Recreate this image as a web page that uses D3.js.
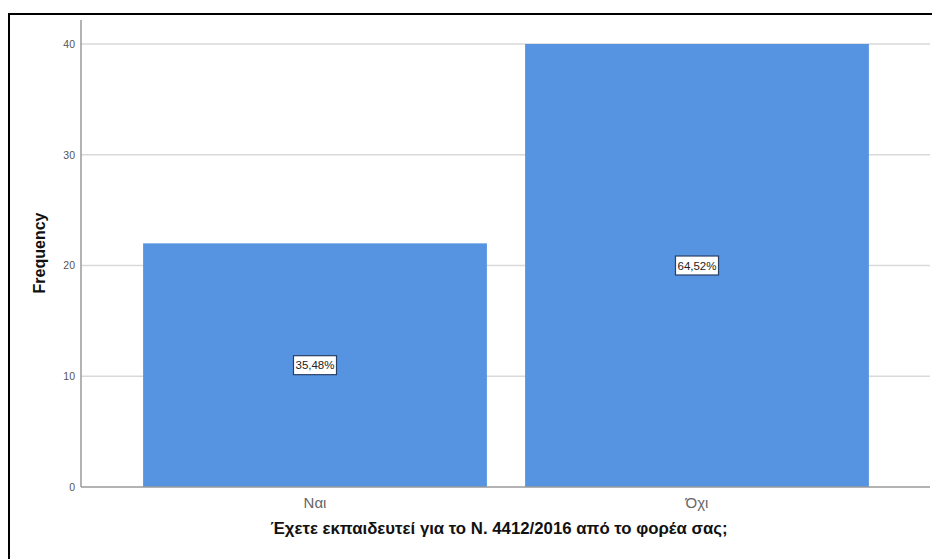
<!DOCTYPE html>
<html><head><meta charset="utf-8">
<script src="https://cdn.jsdelivr.net/npm/d3@7"></script>
<style>body{margin:0;background:#fff}svg{display:block}</style>
</head><body>
<svg id="c" width="932" height="559"></svg>
<script>
const categories = ["Ναι", "Όχι"];
const frequencies = [22, 40];
const percentLabels = ["35,48%", "64,52%"];
const yTicks = [0, 10, 20, 30, 40];
const xTitle = "Έχετε εκπαιδευτεί για το Ν. 4412/2016 από το φορέα σας;";
const yTitle = "Frequency";

const font = "Liberation Sans, Arial, sans-serif";
const svg = d3.select("#c");
// outer frame
svg.append("rect").attr("x", 9).attr("y", 14).attr("width", 940).attr("height", 560)
  .attr("fill", "none").attr("stroke", "#000").attr("stroke-width", 2);

const x = d3.scaleBand().domain(categories).range([124, 888]).paddingInner(0.1).paddingOuter(0.05);
const y = d3.scaleLinear().domain([0, 40]).range([487, 44]);
const left = 81, right = 930;

// grid
svg.append("g").selectAll("line").data(yTicks.filter(d => d > 0)).join("line")
  .attr("x1", left).attr("x2", right).attr("y1", d => y(d)).attr("y2", d => y(d))
  .attr("stroke", "#d9d9d9").attr("stroke-width", 1.5);

// bars
svg.append("g").selectAll("rect").data(categories).join("rect")
  .attr("x", d => x(d)).attr("width", x.bandwidth())
  .attr("y", (d, i) => y(frequencies[i])).attr("height", (d, i) => y(0) - y(frequencies[i]))
  .attr("fill", "#5694e2");

// axes
const ya = svg.append("g").attr("transform", `translate(${left},0)`)
  .call(d3.axisLeft(y).tickValues(yTicks).tickSize(0).tickPadding(6));
ya.select(".domain").attr("d", `M0,20V${y(0)}`).attr("stroke", "#9a9a9a").attr("stroke-width", 1.5);
ya.selectAll("text").attr("font-family", font).attr("font-size", 10.5).attr("fill", "#555");

const xa = svg.append("g").attr("transform", `translate(0,${y(0)})`)
  .call(d3.axisBottom(x).tickSize(0).tickPadding(10));
xa.select(".domain").attr("d", `M${left},0H${right}`).attr("stroke", "#9a9a9a").attr("stroke-width", 1.5);
xa.selectAll("text").attr("font-family", font).attr("font-size", 15).attr("fill", "#666");

// percent labels
categories.forEach((c, i) => {
  const cx = x(c) + x.bandwidth() / 2, cy = y(frequencies[i] / 2);
  const g = svg.append("g");
  const t = g.append("text").attr("x", cx).attr("y", cy).attr("text-anchor", "middle")
    .attr("dominant-baseline", "central").attr("font-family", font)
    .attr("font-size", 11.5).attr("fill", "#222").text(percentLabels[i]);
  const bb = t.node().getBBox();
  g.insert("rect", "text").attr("x", bb.x - 2).attr("y", cy - 9.5).attr("width", bb.width + 4).attr("height", 19)
    .attr("fill", "#fff").attr("stroke", "#2a3f66").attr("stroke-width", 1.2);
});

// titles
svg.append("text").attr("x", 499).attr("y", 534).attr("text-anchor", "middle")
  .attr("font-family", font).attr("font-weight", "bold").attr("font-size", 16.8)
  .attr("fill", "#111").text(xTitle);
svg.append("text").attr("transform", "translate(45,253) rotate(-90)").attr("text-anchor", "middle")
  .attr("font-family", font).attr("font-weight", "bold").attr("font-size", 16)
  .attr("fill", "#111").text(yTitle);
</script>
</body></html>
